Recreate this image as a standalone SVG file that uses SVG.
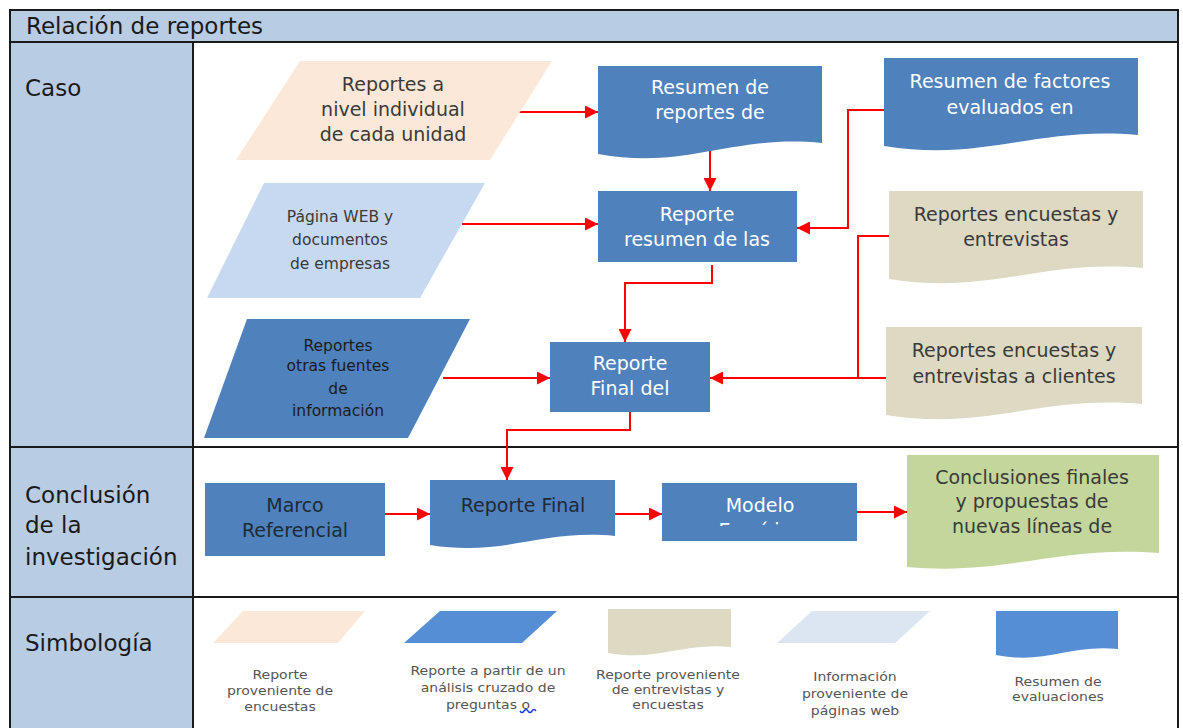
<svg xmlns="http://www.w3.org/2000/svg" width="1183" height="728" viewBox="0 0 1183 728">
  <defs>
    <marker id="arrow" viewBox="0 0 10 10" refX="10" refY="5" markerWidth="6.5" markerHeight="6.5" markerUnits="strokeWidth" orient="auto">
      <path d="M0,0 L10,5 L0,10 z" fill="#ff0000"/>
    </marker>
    <clipPath id="clipModelo">
      <rect x="662" y="483" width="195" height="43"/>
    </clipPath>
    <style>
      .lane { fill: #b8cce4; stroke: #1a1a1a; stroke-width: 2; }
      .frame { fill: #ffffff; stroke: #1a1a1a; stroke-width: 2; }
      .hd { font-family: "DejaVu Sans", "Liberation Sans", sans-serif; font-size: 23px; fill: #1a1a1a; }
      .lbl { font-family: "DejaVu Sans", "Liberation Sans", sans-serif; font-size: 19px; text-anchor: middle; }
      .sm { font-size: 15.5px; }
      .w { fill: #ffffff; }
      .d { fill: #3a3a3a; }
      .k { fill: #1c1c1c; }
      .n { fill: #1e2a38; }
      .leg { font-family: "DejaVu Sans", "Liberation Sans", sans-serif; font-size: 11.5px; text-anchor: middle; fill: #555555; }
      .blue { fill: #4f81bd; }
      .peach { fill: #fce8d8; }
      .sky { fill: #c6d9f1; }
      .tan { fill: #ddd9c3; }
      .green { fill: #c3d69b; }
      .conn { fill: none; stroke: #ff0000; stroke-width: 2; }
    </style>
  </defs>

  <rect x="0" y="0" width="1183" height="728" fill="#ffffff"/>

  <!-- swimlane frame -->
  <g id="frame">
    <rect class="frame" x="10" y="10" width="1168" height="730"/>
    <rect class="lane" x="10" y="10" width="1168" height="32"/>
    <rect class="lane" x="10" y="42" width="183" height="698"/>
    <line x1="10" y1="447" x2="1178" y2="447" stroke="#1a1a1a" stroke-width="2"/>
    <line x1="10" y1="597" x2="1178" y2="597" stroke="#1a1a1a" stroke-width="2"/>
    <text class="hd" x="26" y="34">Relación de reportes</text>
    <text class="hd" x="25" y="96">Caso</text>
    <text class="hd" x="25" y="503">Conclusión</text>
    <text class="hd" x="25" y="533">de la</text>
    <text class="hd" x="25" y="565">investigación</text>
    <text class="hd" x="25" y="651">Simbología</text>
  </g>

  <!-- connectors -->
  <g id="connectors" class="conn">
    <path d="M518,112 H598" marker-end="url(#arrow)"/>
    <path d="M710,150 V191" marker-end="url(#arrow)"/>
    <path d="M462,224 H598" marker-end="url(#arrow)"/>
    <path d="M884,110 H848 V228 H797" marker-end="url(#arrow)"/>
    <path d="M712,265 V283 H625 V342" marker-end="url(#arrow)"/>
    <path d="M889,236 H858 V378"/>
    <path d="M886,378 H710" marker-end="url(#arrow)"/>
    <path d="M443,378 H550" marker-end="url(#arrow)"/>
    <path d="M630,412 V430 H507 V480" marker-end="url(#arrow)"/>
    <path d="M385,514 H430" marker-end="url(#arrow)"/>
    <path d="M615,514 H662" marker-end="url(#arrow)"/>
    <path d="M857,512 H907" marker-end="url(#arrow)"/>
  </g>

  <!-- Caso -->
  <g id="reportes-individual">
    <polygon class="peach" points="300,61 552,61 490,160 236,160"/>
    <text class="lbl d"><tspan x="393" y="91">Reportes a</tspan><tspan x="393" y="116">nivel individual</tspan><tspan x="393" y="141">de cada unidad</tspan></text>
  </g>

  <g id="resumen-reportes">
    <path class="blue" d="M598,66 H822 V143 C732,134 688,170 598,154 Z"/>
    <text class="lbl w"><tspan x="710" y="94">Resumen de</tspan><tspan x="710" y="119">reportes de</tspan></text>
  </g>

  <g id="resumen-factores">
    <path class="blue" d="M884,58 H1138 V135 C1036,126 986,162 884,146 Z"/>
    <text class="lbl w"><tspan x="1010" y="88">Resumen de factores</tspan><tspan x="1010" y="114">evaluados en</tspan></text>
  </g>

  <g id="pagina-web">
    <polygon class="sky" points="264,183 485,183 420,298 207,298"/>
    <text class="lbl sm d"><tspan x="340" y="222">Página WEB y</tspan><tspan x="340" y="245">documentos</tspan><tspan x="340" y="269">de empresas</tspan></text>
  </g>

  <g id="reporte-resumen">
    <rect class="blue" x="598" y="191" width="199" height="71"/>
    <text class="lbl w"><tspan x="697" y="221">Reporte</tspan><tspan x="697" y="246">resumen de las</tspan></text>
  </g>

  <g id="encuestas-entrevistas">
    <path class="tan" d="M889,191 H1143 V268 C1041,259 991,295 889,279 Z"/>
    <text class="lbl d"><tspan x="1016" y="221">Reportes encuestas y</tspan><tspan x="1016" y="246">entrevistas</tspan></text>
  </g>

  <g id="otras-fuentes">
    <polygon class="blue" points="247,319 470,319 408,438 204,438"/>
    <text class="lbl sm k"><tspan x="338" y="351">Reportes</tspan><tspan x="338" y="371">otras fuentes</tspan><tspan x="338" y="394">de</tspan><tspan x="338" y="416">información</tspan></text>
  </g>

  <g id="reporte-final-del">
    <rect class="blue" x="550" y="342" width="160" height="70"/>
    <text class="lbl w"><tspan x="630" y="370">Reporte</tspan><tspan x="630" y="395">Final del</tspan></text>
  </g>

  <g id="encuestas-clientes">
    <path class="tan" d="M886,327 H1142 V404 C1039,395 988,431 886,415 Z"/>
    <text class="lbl d"><tspan x="1014" y="357">Reportes encuestas y</tspan><tspan x="1014" y="383">entrevistas a clientes</tspan></text>
  </g>

  <!-- Conclusión de la investigación -->
  <g id="marco-referencial">
    <rect class="blue" x="205" y="483" width="180" height="73"/>
    <text class="lbl n"><tspan x="295" y="512">Marco</tspan><tspan x="295" y="537">Referencial</tspan></text>
  </g>

  <g id="reporte-final">
    <path class="blue" d="M430,480 H615 V536 C541,529 504,557 430,545 Z"/>
    <text class="lbl n"><tspan x="523" y="512">Reporte Final</tspan></text>
  </g>

  <g id="modelo">
    <rect class="blue" x="662" y="483" width="195" height="58"/>
    <text class="lbl w" clip-path="url(#clipModelo)"><tspan x="760" y="512">Modelo</tspan><tspan x="760" y="537">Empírico</tspan></text>
  </g>

  <g id="conclusiones">
    <path class="green" d="M907,455 H1159 V553 C1058,545 1008,576 907,567 Z"/>
    <text class="lbl d"><tspan x="1032" y="484">Conclusiones finales</tspan><tspan x="1032" y="508">y propuestas de</tspan><tspan x="1032" y="533">nuevas líneas de</tspan></text>
  </g>

  <!-- Simbología -->
  <g id="leg-encuestas">
    <polygon class="peach" points="243,611 365,611 338,643 213,643"/>
    <text class="leg" transform="translate(280,0) scale(1.22,1)"><tspan x="0" y="679">Reporte</tspan><tspan x="0" y="695">proveniente de</tspan><tspan x="0" y="711">encuestas</tspan></text>
  </g>

  <g id="leg-analisis">
    <polygon fill="#558ed5" points="440,611 557,611 522,643 404,643"/>
    <text class="leg" transform="translate(488,0) scale(1.22,1)"><tspan x="0" y="675">Reporte a partir de un</tspan><tspan x="0" y="692">análisis cruzado de</tspan><tspan x="0" y="709">preguntas o</tspan></text>
    <path d="M520,711 q2,3 4,0 t4,0 t4,0 t4,0" fill="none" stroke="#2233ee" stroke-width="1.5"/>
  </g>

  <g id="leg-entrevistas">
    <path class="tan" d="M608,609 H731 V647 C682,642 657,662 608,653 Z"/>
    <text class="leg" transform="translate(668,0) scale(1.22,1)"><tspan x="0" y="679">Reporte proveniente</tspan><tspan x="0" y="694">de entrevistas y</tspan><tspan x="0" y="709">encuestas</tspan></text>
  </g>

  <g id="leg-web">
    <polygon fill="#dce6f2" points="812,611 930,611 895,643 777,643"/>
    <text class="leg" transform="translate(855,0) scale(1.22,1)"><tspan x="0" y="681">Información</tspan><tspan x="0" y="698">proveniente de</tspan><tspan x="0" y="715">páginas web</tspan></text>
  </g>

  <g id="leg-resumen">
    <path fill="#558ed5" d="M996,611 H1118 V649 C1069,644 1045,665 996,655 Z"/>
    <text class="leg" transform="translate(1058,0) scale(1.22,1)"><tspan x="0" y="686">Resumen de</tspan><tspan x="0" y="701">evaluaciones</tspan></text>
  </g>
</svg>
